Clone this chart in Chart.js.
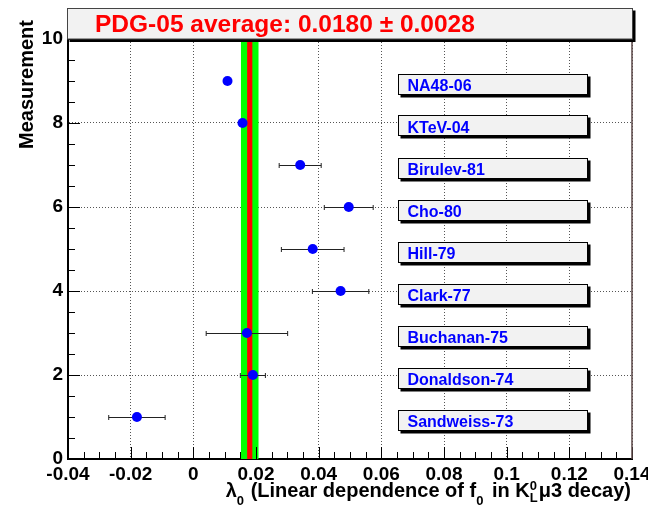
<!DOCTYPE html>
<html>
<head>
<meta charset="utf-8">
<script src="https://cdn.jsdelivr.net/npm/chart.js@4.4.1/dist/chart.umd.min.js"></script>
<style>
  html, body { margin: 0; padding: 0; background: #fff; }
  canvas { display: block; }
</style>
</head>
<body>
<canvas id="chart" width="648" height="507"></canvas>
<script>
const experiments = ['NA48-06', 'KTeV-04', 'Birulev-81', 'Cho-80', 'Hill-79', 'Clark-77', 'Buchanan-75', 'Donaldson-74', 'Sandweiss-73'];
const measurement = [9, 8, 7, 6, 5, 4, 3, 2, 1];
const lambda0 = [0.0109, 0.0157, 0.0341, 0.0496, 0.0381, 0.0470, 0.0171, 0.0190, -0.0180];
const lambda0Err = [0.0012, 0.0013, 0.0067, 0.0078, 0.0100, 0.0090, 0.0130, 0.0040, 0.0090];
const pdgAverage = 0.0180;
const pdgError = 0.0028;

const xTickLabels = ['-0.04', '-0.02', '0', '0.02', '0.04', '0.06', '0.08', '0.1', '0.12', '0.14'];
const yTickLabels = ['0', '2', '4', '6', '8', '10'];

const FONT = "'Liberation Sans', Arial, Helvetica, sans-serif";

const decorations = {
  id: 'decorations',
  beforeDatasetsDraw(chart) {
    const { ctx, chartArea: a, scales: { x, y } } = chart;
    ctx.save();

    // average band (green) and central value (red)
    const g0 = x.getPixelForValue(pdgAverage - pdgError);
    const g1 = x.getPixelForValue(pdgAverage + pdgError);
    ctx.fillStyle = '#00ff00';
    ctx.fillRect(g0, a.top, g1 - g0, a.bottom - a.top);
    const xc = x.getPixelForValue(pdgAverage);
    ctx.fillStyle = '#ff0000';
    ctx.fillRect(xc - 2.6, a.top, 5.2, a.bottom - a.top);

    // experiment name boxes
    const bx0 = Math.round(x.getPixelForValue(0.0653)) + 0.5;
    const bx1 = Math.round(x.getPixelForValue(0.1256)) + 0.5;
    ctx.font = 'bold 16px ' + FONT;
    ctx.textBaseline = 'alphabetic';
    ctx.textAlign = 'left';
    experiments.forEach((name, i) => {
      const py = y.getPixelForValue(measurement[i]);
      const top = Math.round(py - 7.5) + 0.5;
      const h = 20;
      ctx.fillStyle = '#000';
      ctx.fillRect(bx0 + 2, top + 2, bx1 - bx0 + 1, h + 1);
      ctx.fillStyle = '#f2f2f2';
      ctx.fillRect(bx0, top, bx1 - bx0, h);
      ctx.strokeStyle = '#000';
      ctx.lineWidth = 1;
      ctx.strokeRect(bx0, top, bx1 - bx0, h);
      ctx.fillStyle = '#0000ff';
      ctx.fillText(name, bx0 + 9, py + 10.2);
    });

    // horizontal error bars
    ctx.strokeStyle = '#222';
    ctx.lineWidth = 1;
    lambda0.forEach((v, i) => {
      const xl = x.getPixelForValue(v - lambda0Err[i]);
      const xr = x.getPixelForValue(v + lambda0Err[i]);
      if ((xr - xl) / 2 <= 5.5) return;
      const py = Math.round(y.getPixelForValue(measurement[i])) + 0.5;
      ctx.beginPath();
      ctx.moveTo(xl, py); ctx.lineTo(xr, py);
      ctx.moveTo(xl, py - 2.5); ctx.lineTo(xl, py + 2.5);
      ctx.moveTo(xr, py - 2.5); ctx.lineTo(xr, py + 2.5);
      ctx.stroke();
    });
    ctx.restore();
  },
  afterDraw(chart) {
    const { ctx, chartArea: a, scales: { x, y } } = chart;
    ctx.save();

    // tick marks inside the frame
    ctx.strokeStyle = '#000';
    ctx.lineWidth = 1;
    ctx.beginPath();
    for (let k = 0; k <= 36; k++) {
      const px = Math.round(x.getPixelForValue(-0.04 + k * 0.005)) + 0.5;
      const len = k % 4 === 0 ? 12 : 7;
      ctx.moveTo(px, a.bottom); ctx.lineTo(px, a.bottom - len);
    }
    for (let k = 0; k <= 20; k++) {
      const py = Math.round(y.getPixelForValue(k * 0.5)) + 0.5;
      const len = k % 4 === 0 ? 12 : 7;
      ctx.moveTo(a.left, py); ctx.lineTo(a.left + len, py);
    }
    ctx.stroke();

    // right frame edge
    ctx.strokeStyle = '#5a4646';
    ctx.lineWidth = 1.5;
    ctx.beginPath();
    ctx.moveTo(a.right, a.top); ctx.lineTo(a.right, a.bottom);
    ctx.stroke();

    // title pave
    const tx = 67.5, ty = 8.5, tw = 565, th = 30.5;
    ctx.fillStyle = '#000';
    ctx.fillRect(tx + 2, ty + 2, tw + 1, th + 1);
    ctx.fillStyle = '#f2f2f2';
    ctx.fillRect(tx, ty, tw, th);
    ctx.strokeStyle = '#444';
    ctx.lineWidth = 1;
    ctx.strokeRect(tx, ty, tw, th);
    ctx.fillStyle = '#ff0000';
    ctx.font = 'bold 24.5px ' + FONT;
    ctx.textAlign = 'left';
    ctx.textBaseline = 'alphabetic';
    ctx.fillText('PDG-05 average: ' + pdgAverage.toFixed(4) + ' \u00b1 ' + pdgError.toFixed(4), 95, 32);

    // y axis title
    ctx.fillStyle = '#000';
    ctx.font = 'bold 20px ' + FONT;
    ctx.save();
    ctx.translate(33, 20);
    ctx.rotate(-Math.PI / 2);
    ctx.textAlign = 'right';
    ctx.fillText('Measurement', 0, 0);
    ctx.restore();

    // x axis title with sub/superscripts, right aligned
    const big = 'bold 20px ' + FONT, small = 'bold 13px ' + FONT;
    const parts = [
      { t: '\u03bb', f: big, dy: 0 },
      { t: '0', f: small, dy: 8, gap: 1 },
      { t: ' (Linear dependence of f', f: big, dy: 0 },
      { t: '0', f: small, dy: 8, gap: 3 },
      { t: ' in K', f: big, dy: 0 },
      { t: '0', f: small, dy: -7, stack: 'L' },
      { t: '\u03bc3 decay)', f: big, dy: 0 }
    ];
    let total = 0;
    parts.forEach(p => {
      ctx.font = p.f;
      p.w = ctx.measureText(p.t).width + (p.gap || 0);
      if (p.stack) p.w = Math.max(p.w, ctx.measureText(p.stack).width) + 1;
      total += p.w;
    });
    let cx = 631 - total;
    const base = 497;
    ctx.textAlign = 'left';
    parts.forEach(p => {
      ctx.font = p.f;
      ctx.fillText(p.t, cx, base + p.dy);
      if (p.stack) ctx.fillText(p.stack, cx, base + 5);
      cx += p.w;
    });
    ctx.restore();
  }
};

new Chart(document.getElementById('chart'), {
  type: 'scatter',
  data: {
    datasets: [{
      data: lambda0.map((v, i) => ({ x: v, y: measurement[i] })),
      pointRadius: 5,
      pointHoverRadius: 5,
      pointBackgroundColor: '#0000ff',
      pointBorderWidth: 0
    }]
  },
  options: {
    responsive: false,
    animation: false,
    events: [],
    layout: { padding: { left: 0, top: 39, right: 16, bottom: 0 } },
    plugins: { legend: { display: false }, tooltip: { enabled: false } },
    scales: {
      x: {
        type: 'linear',
        min: -0.04,
        max: 0.14,
        afterFit(s) { s.height = 48; s.paddingLeft = 0; s.paddingRight = 0; },
        ticks: {
          stepSize: 0.02,
          autoSkip: false,
          maxRotation: 0,
          padding: 4,
          color: '#000',
          font: { family: FONT, size: 19, weight: 'bold' },
          callback: (v, i) => xTickLabels[i]
        },
        grid: { color: '#555', lineWidth: 1, drawTicks: false },
        border: { display: true, color: '#000', width: 2, dash: [1, 2] }
      },
      y: {
        type: 'linear',
        min: 0,
        max: 10,
        afterFit(s) { s.width = 68; s.paddingTop = 0; s.paddingBottom = 0; },
        ticks: {
          stepSize: 2,
          autoSkip: false,
          padding: 5,
          color: '#000',
          font: { family: FONT, size: 19, weight: 'bold' },
          callback: (v, i) => yTickLabels[i]
        },
        grid: { color: '#555', lineWidth: 1, drawTicks: false },
        border: { display: true, color: '#000', width: 2, dash: [1, 2] }
      }
    }
  },
  plugins: [decorations]
});
</script>
</body>
</html>
